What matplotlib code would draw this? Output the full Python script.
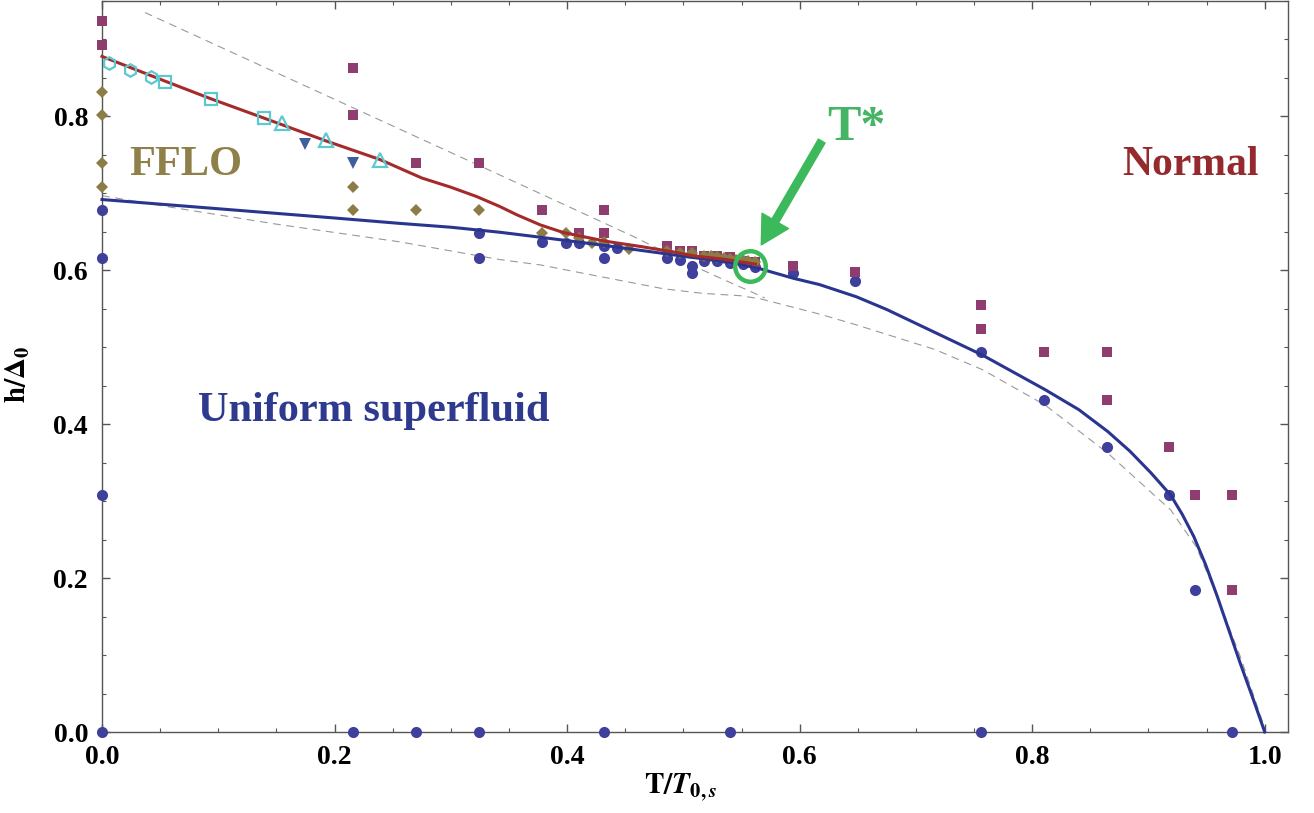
import matplotlib
matplotlib.use("Agg")
import matplotlib.pyplot as plt
from matplotlib.ticker import MultipleLocator

plt.rcParams['font.family'] = ['Liberation Serif', 'DejaVu Serif']
plt.rcParams['font.weight'] = 'bold'
plt.rcParams['mathtext.fontset'] = 'stix'

# --- data ---
# Uniform superfluid / normal boundary (solid blue)
blue_x = [0.0, 0.1, 0.2, 0.256, 0.300, 0.342, 0.377, 0.434, 0.480, 0.506, 0.523, 0.545,
          0.566, 0.595, 0.617, 0.649, 0.675, 0.700, 0.757, 0.811, 0.840, 0.865, 0.884, 0.902,
          0.919, 0.929, 0.939, 0.949, 0.959, 0.969, 0.979, 0.990, 1.0]
blue_y = [0.692, 0.680, 0.668, 0.661, 0.656, 0.6495, 0.643, 0.632, 0.6225, 0.617, 0.614, 0.609,
          0.602, 0.5895, 0.5815, 0.5655, 0.549, 0.531, 0.490, 0.445, 0.419, 0.3905, 0.365, 0.337,
          0.308, 0.283, 0.254, 0.218, 0.177, 0.133, 0.089, 0.043, 0.0]

# FFLO / normal boundary (solid red)
red_x = [0.0, 0.054, 0.0935, 0.139, 0.193, 0.239, 0.275, 0.300, 0.322, 0.342, 0.357,
         0.377, 0.397, 0.434, 0.463, 0.491, 0.508, 0.537, 0.562]
red_y = [0.878, 0.846, 0.823, 0.798, 0.768, 0.744, 0.720, 0.708, 0.696, 0.683, 0.672,
         0.659, 0.649, 0.6376, 0.631, 0.624, 0.619, 0.614, 0.608]

# gray dashed curves
dash_up_x = [0.037, 0.342, 0.457, 0.497, 0.5285, 0.560, 0.570]
dash_up_y = [0.935, 0.724, 0.644, 0.614, 0.592, 0.571, 0.564]
dash_lo_x = [0.0, 0.051, 0.15, 0.256, 0.342, 0.377, 0.428, 0.483, 0.517, 0.549, 0.566,
             0.5815, 0.6174, 0.649, 0.7165, 0.757, 0.811, 0.865, 0.919, 0.941, 0.959,
             0.979, 1.0]
dash_lo_y = [0.697, 0.684, 0.660, 0.637, 0.614, 0.607, 0.592, 0.576, 0.570, 0.567, 0.563,
             0.557, 0.543, 0.529, 0.497, 0.471, 0.425, 0.3624, 0.2887, 0.241, 0.176,
             0.098, 0.005]

# superfluid points (blue circles)
sf_x = [0, 0, 0, 0, 0.216, 0.270, 0.324, 0.432, 0.540, 0.756, 0.972,
        0.324, 0.324, 0.378, 0.399, 0.410, 0.432, 0.432, 0.443,
        0.486, 0.497, 0.507, 0.507, 0.518, 0.529, 0.540, 0.551, 0.562,
        0.594, 0.648, 0.756, 0.810, 0.864, 0.918, 0.940]
sf_y = [0.0, 0.308, 0.616, 0.678, 0.0, 0.0, 0.0, 0.0, 0.0, 0.0, 0.0,
        0.648, 0.616, 0.637, 0.636, 0.636, 0.631, 0.616, 0.629,
        0.616, 0.614, 0.606, 0.597, 0.612, 0.612, 0.610, 0.608, 0.604,
        0.597, 0.586, 0.494, 0.432, 0.370, 0.308, 0.185]

# normal points (purple squares)
nm_x = [0, 0, 0.216, 0.216, 0.270, 0.324, 0.378, 0.432, 0.410, 0.432,
        0.486, 0.497, 0.507, 0.518, 0.529, 0.540, 0.551, 0.562, 0.594, 0.648,
        0.756, 0.756, 0.810, 0.864, 0.864, 0.918, 0.940, 0.972, 0.972]
nm_y = [0.924, 0.893, 0.863, 0.802, 0.740, 0.740, 0.679, 0.679, 0.648, 0.648,
        0.631, 0.625, 0.625, 0.618, 0.618, 0.617, 0.612, 0.611, 0.605, 0.598,
        0.555, 0.524, 0.494, 0.494, 0.432, 0.370, 0.308, 0.308, 0.185]

# FFLO points (olive diamonds)
ff_x = [0, 0, 0, 0, 0.216, 0.216, 0.270, 0.324, 0.378, 0.399, 0.410, 0.421, 0.432,
        0.453, 0.486, 0.497, 0.507, 0.518, 0.524, 0.529, 0.535, 0.540, 0.545,
        0.551, 0.556, 0.562]
ff_y = [0.832, 0.802, 0.740, 0.708, 0.708, 0.678, 0.678, 0.678, 0.648, 0.648, 0.642,
        0.636, 0.637, 0.628, 0.625, 0.622, 0.623, 0.619, 0.618, 0.617, 0.616,
        0.615, 0.614, 0.613, 0.612, 0.611]

# other markers
hex_x = [0.006, 0.024, 0.042]
hex_y = [0.869, 0.860, 0.851]
csq_x = [0.054, 0.0935, 0.139]
csq_y = [0.845, 0.823, 0.798]
tri_x = [0.155, 0.193, 0.239]
tri_y = [0.791, 0.769, 0.743]
dtri_x = [0.175, 0.216]
dtri_y = [0.764, 0.740]

tstar = (0.557, 0.606)

c_dot = "#3f3f9c"
c_blue = "#2a358f"
c_red = "#a52a2a"
c_sq = "#8e3d6e"
c_dia = "#8c7d46"
c_cyan = "#5cc8d0"
c_tri = "#3d5f9e"
c_green = "#3cb95a"

fig = plt.figure(figsize=(13.14, 8.13), dpi=100)
ax = fig.add_axes([102/1314, 81/813, 1186/1314, 731/813])

ax.plot(dash_lo_x, dash_lo_y, color="#999999", lw=0.8, ls=(0, (7, 5)), zorder=1)
ax.plot(dash_up_x, dash_up_y, color="#999999", lw=0.8, ls=(0, (7, 5)), zorder=1)

ax.plot(sf_x, sf_y, 'o', color=c_dot, ms=8, mew=0, clip_on=False, zorder=3)
ax.plot(nm_x, nm_y, 's', color=c_sq, ms=7.2, mew=0, clip_on=False, zorder=3)
ax.plot(ff_x, ff_y, 'D', color=c_dia, ms=6, mew=0, clip_on=False, zorder=4)

ax.plot(blue_x, blue_y, color=c_blue, lw=2.2, zorder=5, clip_on=False)
ax.plot(red_x, red_y, color=c_red, lw=2.2, zorder=5, clip_on=False)

ax.plot(hex_x, hex_y, 'h', mfc='none', mec=c_cyan, ms=9, mew=1.6, zorder=6)
ax.plot(csq_x, csq_y, 's', mfc='none', mec=c_cyan, ms=8.2, mew=1.6, zorder=6)
ax.plot(tri_x, tri_y, '^', mfc='none', mec=c_cyan, ms=9.5, mew=1.6, zorder=6)
ax.plot(dtri_x, dtri_y, 'v', color=c_tri, ms=8, mew=0, zorder=6)

# T* marker and arrow
ax.plot([tstar[0]], [tstar[1]], 'o', mfc='none', mec=c_green, ms=22, mew=3.2, zorder=7)
ax.annotate("", xy=(0.567, 0.633), xytext=(0.619, 0.768),
            arrowprops=dict(color=c_green, width=5.5, headwidth=22, headlength=20, shrink=0),
            zorder=7)
ax.text(0.624, 0.769, "T*", color="#45b464", fontsize=36, fontweight='bold',
        ha='left', va='baseline')

ax.text(0.0232, 0.724, "FFLO", color="#8f7f48", fontsize=30.5, fontweight='bold',
        ha='left', va='baseline')
ax.text(0.8776, 0.724, "Normal", color="#952a2e", fontsize=30, fontweight='bold',
        ha='left', va='baseline')
ax.text(0.0825, 0.404, "Uniform superfluid", color="#2e3a8e", fontsize=30.5,
        fontweight='bold', ha='left', va='baseline')

ax.set_xlim(0, 1.02)
ax.set_ylim(0, 0.95)
ax.xaxis.set_major_locator(MultipleLocator(0.2))
ax.xaxis.set_minor_locator(MultipleLocator(0.05))
ax.yaxis.set_major_locator(MultipleLocator(0.2))
ax.yaxis.set_minor_locator(MultipleLocator(0.05))
ax.xaxis.set_major_formatter(lambda v, p: f"{v:.1f}")
ax.yaxis.set_major_formatter(lambda v, p: f"{v:.1f}")

for s in ax.spines.values():
    s.set_color("#555555")
    s.set_linewidth(1.0)
ax.tick_params(which='both', direction='in', top=True, right=True, colors="#555555",
               labelcolor='black', labelsize=20)
ax.tick_params(which='major', length=5.5, width=1.0)
ax.tick_params(which='minor', length=3, width=0.8)
ax.tick_params(axis='x', pad=9)
ax.tick_params(axis='y', pad=10)
for lab in ax.get_xticklabels() + ax.get_yticklabels():
    lab.set_fontweight('bold')

ax.set_xlabel(r"$\mathbf{T/}\mathbfit{T}_{\mathbf{0,}\mathbfit{s}}$", fontsize=21)
ax.set_ylabel(r"$\mathbf{h/\Delta_0}$", fontsize=21)
ax.xaxis.label.set_va('center')
ax.yaxis.label.set_va('center')
ax.xaxis.set_label_coords(0.488, -0.076)
ax.yaxis.set_label_coords(-0.071, 0.49)

fig.savefig("out.png", dpi=100)
